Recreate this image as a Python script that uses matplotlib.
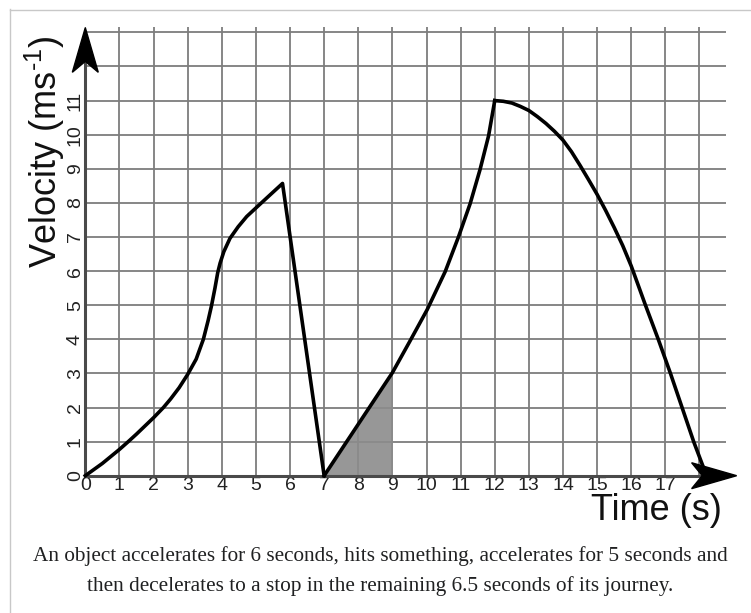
import numpy as np
import matplotlib.pyplot as plt
from matplotlib.patches import Polygon
from matplotlib.lines import Line2D

plt.rcParams['font.family'] = ['Liberation Sans', 'DejaVu Sans']
plt.rcParams['mathtext.fontset'] = 'custom'
plt.rcParams['mathtext.rm'] = 'Liberation Sans'
plt.rcParams['mathtext.it'] = 'Liberation Sans'

# velocity-time data (t in s, v in m/s)
seg1_t = [0, 0.5, 1, 1.26, 1.5, 2, 2.29, 2.5, 2.75, 3, 3.25, 3.46, 3.6, 3.7, 3.8, 3.88,
          3.95, 4.06, 4.24, 4.48, 4.73, 5.02, 5.41, 5.78, 7.0]
seg1_v = [0, 0.36, 0.77, 1.0, 1.22, 1.7, 2.0, 2.25, 2.58, 2.97, 3.42, 4.0, 4.55, 4.99, 5.5, 5.95,
          6.23, 6.57, 6.96, 7.30, 7.60, 7.87, 8.23, 8.57, 0]
seg2_t = [7, 8, 9, 9.5, 10.02, 10.55, 10.94, 11.28, 11.57, 11.82, 12.0]
seg2_v = [0, 1.51, 3.02, 3.92, 4.87, 5.99, 7.01, 7.98, 8.98, 9.97, 11.0]
seg3_t = [12, 12.25, 12.5, 12.75, 13, 13.25, 13.5, 13.75, 14, 14.25, 14.5, 14.75, 15, 15.25,
          15.5, 15.75, 16.0, 16.2, 16.41, 16.8, 17.15, 17.49, 17.83, 18.17]
seg3_v = [11.0, 10.98, 10.93, 10.83, 10.71, 10.53, 10.33, 10.1, 9.84, 9.5, 9.1, 8.68, 8.25, 7.78,
          7.28, 6.75, 6.15, 5.6, 5.02, 3.98, 3.0, 2.0, 1.0, 0.1]
shade_t = [7, 8, 9]
shade_v = [0, 1.51, 3.02]

x_ticks = list(range(19))
x_labels = [str(i) for i in range(18)] + ['']
y_ticks = list(range(14))
y_labels = [str(i) for i in range(12)] + ['', '']

caption1 = 'An object accelerates for 6 seconds, hits something, accelerates for 5 seconds and'
caption2 = 'then decelerates to a stop in the remaining 6.5 seconds of its journey.'

W, H = 751, 613
fig = plt.figure(figsize=(W / 100, H / 100), dpi=100)

# pixel geometry of the grid
ox, oy = 85.3, 475.7
sx, sy = 34.12, 34.1
xmax, ymax = 18.78, 13.15
ax = fig.add_axes([ox / W, (H - oy) / H, xmax * sx / W, ymax * sy / H])
ax.set_xlim(0, xmax)
ax.set_ylim(0, ymax)
for s in ax.spines.values():
    s.set_visible(False)

ax.set_xticks(x_ticks, x_labels, fontsize=14, color='#222222')
ax.set_yticks(y_ticks, y_labels, fontsize=14, color='#222222')
ax.tick_params(length=0, pad=1)
ax.tick_params(axis='y', labelrotation=90)
for lab in ax.get_yticklabels():
    lab.set_va('center')
ax.grid(True, color='#7d7d7d', lw=1.3)
ax.set_axisbelow(True)

# shaded area under the line between 7 s and 9 s
ax.fill_between(shade_t, shade_v, color='#8c8c8c', alpha=0.9, lw=0, zorder=2)

for t, v in [(seg1_t, seg1_v), (seg2_t, seg2_v), (seg3_t, seg3_v)]:
    ax.plot(t, v, color='black', lw=2.6, zorder=4, clip_on=False)

# axes with arrow heads
ax.plot([0, 18.3], [0, 0], color='#4a4a4a', lw=2.2, zorder=3, clip_on=False)
ax.plot([0, 0], [0, 12.3], color='#4a4a4a', lw=2.2, zorder=3, clip_on=False)
ax.add_patch(Polygon([(0, 13.14), (0.38, 11.83), (0, 12.15), (-0.38, 11.83)],
                     closed=True, color='black', zorder=5, clip_on=False))
ax.add_patch(Polygon([(19.09, 0), (17.77, 0.38), (18.08, 0), (17.77, -0.38)],
                     closed=True, color='black', zorder=5, clip_on=False))

fig.text(591 / W, 1 - 520 / H, 'Time (s)', fontsize=26, color='#111111',
         ha='left', va='baseline')
fig.text(57 / W, 1 - 268 / H, r'Velocity (ms$^{\text{-}1}$)', fontsize=26, color='#111111',
         rotation=90, rotation_mode='anchor', ha='left', va='baseline')

fig.text(380 / W, 1 - 561 / H, caption1, fontsize=15.3, family='Liberation Serif',
         color='#202122', ha='center', va='baseline')
fig.text(380 / W, 1 - 591 / H, caption2, fontsize=15.3, family='Liberation Serif',
         color='#202122', ha='center', va='baseline')

# thumbnail frame
fig.add_artist(Line2D([9.5 / W, 9.5 / W], [0, 1 - 9 / H], color='#c8c8c8', lw=1))
fig.add_artist(Line2D([9.5 / W, 1], [1 - 9.5 / H, 1 - 9.5 / H], color='#c8c8c8', lw=1))

fig.savefig('out.png', dpi=100)
